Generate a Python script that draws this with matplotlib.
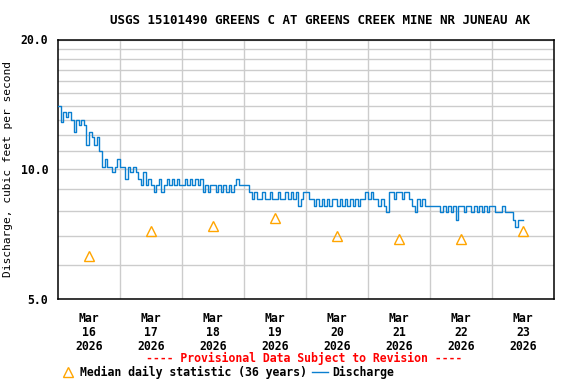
import numpy as np
import pandas as pd
import matplotlib
matplotlib.use("Agg")
import matplotlib.pyplot as plt
import matplotlib.dates as mdates
from matplotlib.ticker import FixedLocator, NullFormatter
from matplotlib.lines import Line2D

# Caudal cada hora (pies cubicos por segundo)
dia16 = [14.0, 12.9, 13.55, 13.2, 13.55, 13.0, 12.2, 13.0, 12.7, 13.0, 12.7, 11.4,
         12.2, 11.85, 11.4, 11.85, 11.0, 10.1, 10.55, 10.1, 10.1, 9.84, 10.1, 10.55]
dia17 = [10.1, 10.1, 9.48, 10.1, 9.84, 10.1, 9.84, 9.48, 9.18, 9.84, 9.18, 9.48,
         9.18, 8.85, 9.18, 9.48, 8.85, 9.18, 9.48, 9.18, 9.48, 9.18, 9.48, 9.18]
dia18 = [9.18, 9.48, 9.18, 9.48, 9.18, 9.48, 9.18, 9.48, 8.85, 9.18, 8.85, 9.18,
         9.18, 8.85, 9.18, 8.85, 9.18, 8.85, 9.18, 8.85, 9.18, 9.48, 9.18, 9.18]
dia19 = [9.18, 9.18, 8.85, 8.52, 8.85, 8.52, 8.52, 8.85, 8.52, 8.52, 8.85, 8.52,
         8.52, 8.85, 8.52, 8.52, 8.85, 8.52, 8.85, 8.52, 8.85, 8.21, 8.52, 8.85]
dia20 = [8.85, 8.52, 8.52, 8.21, 8.52, 8.21, 8.52, 8.21, 8.52, 8.21, 8.52, 8.52,
         8.21, 8.52, 8.21, 8.52, 8.21, 8.52, 8.21, 8.52, 8.21, 8.52, 8.52, 8.85]
dia21 = [8.52, 8.85, 8.52, 8.52, 8.21, 8.52, 8.21, 7.95, 8.85, 8.85, 8.52, 8.85,
         8.85, 8.52, 8.85, 8.85, 8.52, 8.21, 7.95, 8.52, 8.21, 8.52, 8.21, 8.21]
dia22 = [8.21, 8.21, 8.21, 8.21, 7.95, 8.21, 7.95, 8.21, 7.95, 8.21, 7.62, 8.21,
         8.21, 7.95, 8.21, 8.21, 7.95, 8.21, 7.95, 8.21, 7.95, 8.21, 7.95, 8.21]
dia23 = [8.21, 7.95, 7.95, 7.95, 8.21, 7.95, 7.95, 7.95, 7.62, 7.35, 7.62, 7.62, 7.62]

caudal = dia16 + dia17 + dia18 + dia19 + dia20 + dia21 + dia22 + dia23
horas = pd.date_range("2026-03-16 00:00", periods=len(caudal), freq="h")

# Mediana diaria (36 anios), al mediodia
dias = pd.date_range("2026-03-16 12:00", periods=8, freq="D")
mediana = [6.3, 7.2, 7.4, 7.7, 7.0, 6.9, 6.9, 7.2]

fuente = "DejaVu Sans Mono"
plt.rcParams["font.family"] = fuente
plt.rcParams["font.weight"] = "bold"

fig = plt.figure(figsize=(5.76, 3.84), dpi=100)
ax = fig.add_axes([58 / 576, 1 - 299 / 384, (554 - 58) / 576, (299 - 39.5) / 384])

ax.plot(horas, caudal, color="#0a7fd0", lw=1.0, drawstyle="steps-post", zorder=3)
ax.plot(dias, mediana, ls="none", marker="^", ms=7, mfc="none", mec="#ffa500",
        mew=1.0, zorder=4)

ax.set_yscale("log")
ax.set_ylim(5, 20)
ax.yaxis.set_major_locator(FixedLocator([5, 10, 20]))
ax.yaxis.set_minor_locator(FixedLocator([6, 7, 8, 9] + list(range(11, 20))))
ax.yaxis.set_minor_formatter(NullFormatter())
ax.set_yticklabels(["5.0", "10.0", "20.0"])

ax.set_xlim(pd.Timestamp("2026-03-16"), pd.Timestamp("2026-03-24"))
ax.xaxis.set_major_locator(FixedLocator(mdates.date2num(dias)))
ax.set_xticklabels([f"Mar\n{d.day}\n2026" for d in dias], linespacing=1.1)
medianoches = pd.date_range("2026-03-17", periods=7, freq="D")
ax.xaxis.set_minor_locator(FixedLocator(mdates.date2num(medianoches)))

ax.grid(which="minor", color="#cccccc", lw=1.0)
ax.grid(which="major", axis="y", color="#cccccc", lw=1.0)
ax.tick_params(which="both", length=0)
ax.tick_params(axis="y", pad=7, labelsize=8.3)
ax.tick_params(axis="x", pad=9, labelsize=8.3)
for s in ax.spines.values():
    s.set_linewidth(1.1)

ax.set_ylabel("Discharge, cubic feet per second", fontsize=8.1)
ax.yaxis.set_label_coords((13 - 58) / 496, 0.5)

fig.text(320 / 576, 1 - 20 / 384, "USGS 15101490 GREENS C AT GREENS CREEK MINE NR JUNEAU AK",
         ha="center", va="center", fontsize=9)
fig.text(304 / 576, 1 - 358 / 384, "---- Provisional Data Subject to Revision ----",
         ha="center", va="center", fontsize=8.3, color="red")

manijas = [
    Line2D([], [], ls="none", marker="^", ms=7, mfc="none", mec="#ffa500", mew=1.0),
    Line2D([], [], color="#0a7fd0", lw=1.0),
]
fig.legend(manijas, ["Median daily statistic (36 years)", "Discharge"], ncol=2,
           loc="center", bbox_to_anchor=(227 / 576, 1 - 372 / 384), frameon=False,
           fontsize=8.3, handlelength=1.4, handletextpad=0.4, columnspacing=0.4,
           borderpad=0, borderaxespad=0)

fig.savefig("out.png", dpi=100)
